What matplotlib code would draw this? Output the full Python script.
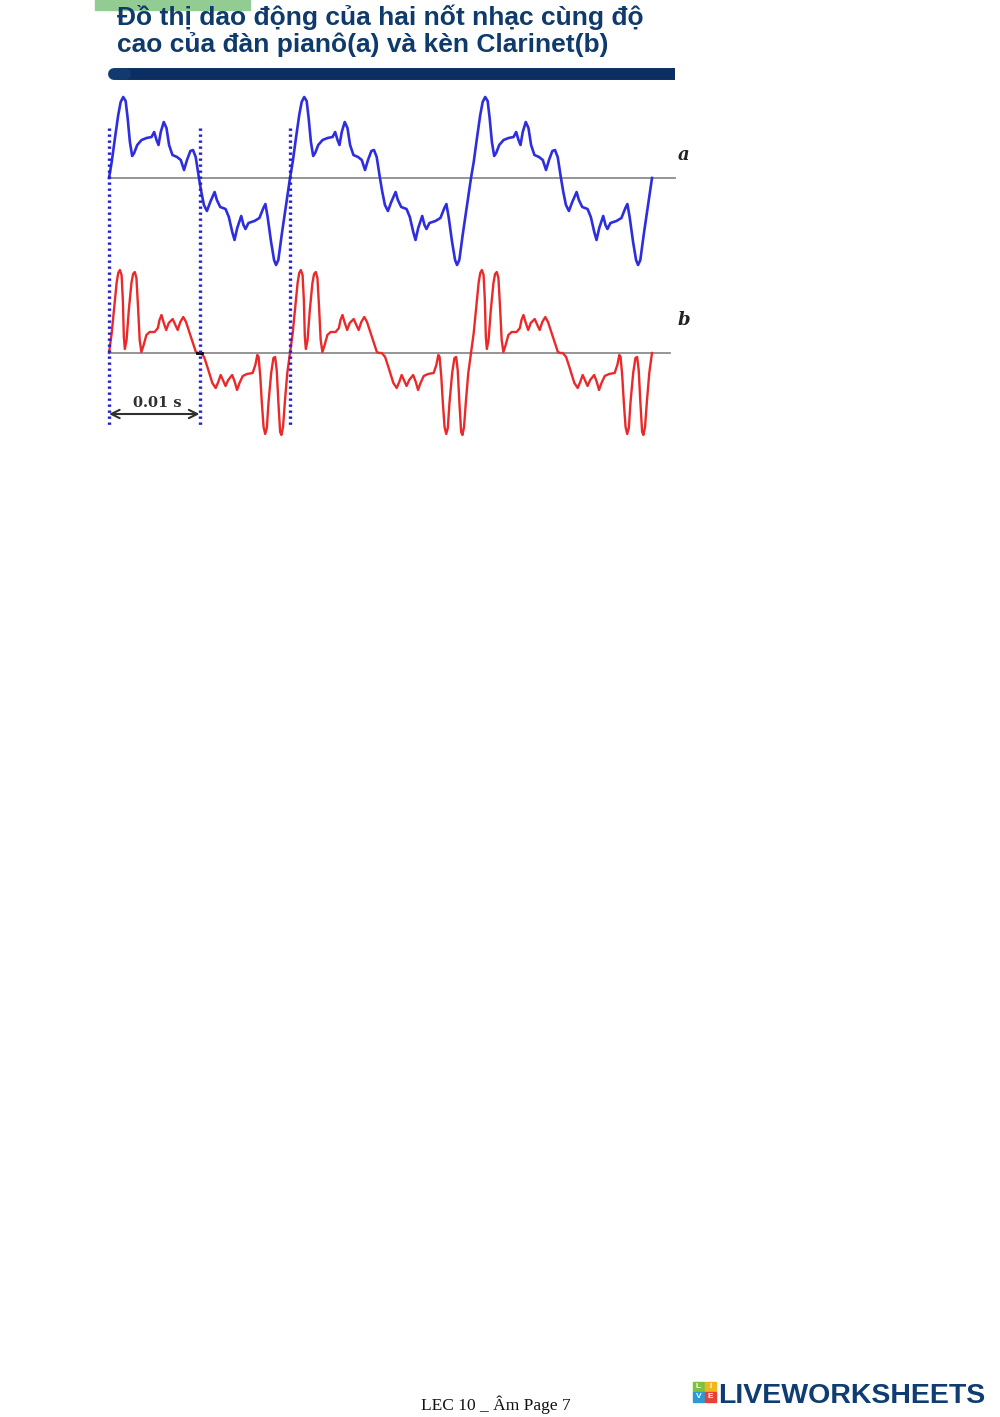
import numpy as np
import matplotlib
matplotlib.use('Agg')
import matplotlib.pyplot as plt
from matplotlib.patches import Rectangle

title_lines = ['Đồ thị dao động của hai nốt nhạc cùng độ',
               'cao của đàn pianô(a) và kèn Clarinet(b)']
footer = 'LEC 10 _ Âm Page 7'
brand = 'LIVEWORKSHEETS'
brand_icon = ['L', 'I', 'V', 'E']

period_ms = 20.0
n_periods = 3
marks_ms = [0, 10, 20]

# one period of the piano wave (a): time in ms, amplitude (arb. units)
t_a = [0.00, 0.30, 0.66, 1.02, 1.29, 1.57, 1.84, 2.06, 2.31, 2.56,
       2.78, 3.12, 3.60, 4.15, 4.70, 4.99, 5.25, 5.47, 5.72, 6.05,
       6.35, 6.64, 7.01, 7.52, 7.93, 8.29, 8.62, 8.99, 9.28, 9.58,
       9.94, 10.20, 10.49, 10.82, 11.19, 11.67, 11.92, 12.29, 12.88, 13.24,
       13.62, 13.87, 14.17, 14.61, 14.86, 15.08, 15.41, 16.07, 16.62, 17.06,
       17.28, 17.53, 17.91, 18.24, 18.46, 18.71, 19.08, 19.56, 20.00]
amp_a = [0, 16, 40, 63, 76, 81, 77, 60, 36, 22,
         25, 33, 38, 40, 41, 46, 38, 33, 46, 56,
         50, 33, 23, 21, 18, 8, 18, 27, 28, 21,
         0, -14, -27, -33, -24, -14, -22, -29, -31, -39,
         -54, -62, -50, -38, -47, -51, -45, -43, -40, -30,
         -26, -39, -64, -82, -87, -82, -57, -27, 0]

# one period of the clarinet wave (b)
t_b = [0.00, 0.30, 0.58, 0.84, 1.02, 1.20, 1.39, 1.53, 1.64, 1.75,
       1.94, 2.19, 2.48, 2.66, 2.85, 3.03, 3.21, 3.39, 3.58, 3.83,
       4.13, 4.49, 5.04, 5.40, 5.58, 5.80, 6.02, 6.32, 6.60, 7.04,
       7.33, 7.59, 7.88, 8.21, 8.51, 8.87, 9.23, 9.60, 9.85, 10.15,
       10.51, 10.87, 11.42, 11.79, 12.07, 12.34, 12.59, 12.88, 13.17, 13.61,
       13.90, 14.15, 14.42, 14.78, 15.25, 15.87, 16.17, 16.39, 16.53, 16.72,
       16.89, 17.08, 17.26, 17.44, 17.62, 17.92, 18.17, 18.36, 18.53, 18.72,
       18.91, 19.05, 19.23, 19.45, 19.70, 20.00]
amp_b = [0, 20, 46, 70, 80, 83, 78, 53, 16, 4,
         13, 43, 70, 79, 81, 75, 46, 13, 1, 8,
         18, 21, 21, 25, 33, 38, 31, 23, 30, 34,
         28, 23, 31, 36, 31, 21, 11, 1, 0, 0,
         -4, -14, -30, -35, -29, -22, -27, -33, -27, -22,
         -29, -37, -30, -23, -21, -20, -12, -2, -4, -24,
         -50, -74, -81, -75, -50, -20, -5, -4, -17, -50,
         -79, -82, -74, -47, -20, 0]


def tile(t, y):
    tt = np.concatenate([np.array(t) + k * period_ms for k in range(n_periods)])
    yy = np.concatenate([np.array(y) for _ in range(n_periods)])
    return tt, yy


fig = plt.figure(figsize=(10, 14.17), dpi=100)
ax = fig.add_axes([0, 0, 1, 1])
ax.set_xlim(0, 1000)
ax.set_ylim(1417, 0)
ax.axis('off')

# header
ax.add_patch(Rectangle((95, 0), 155, 10, color='#93cc93', zorder=1))
navy = '#0e3a6c'
ax.text(117, 25, title_lines[0], fontsize=19, fontweight='bold', color=navy,
        family='Liberation Sans', va='baseline', zorder=3)
ax.text(117, 52, title_lines[1], fontsize=19, fontweight='bold', color=navy,
        family='Liberation Sans', va='baseline', zorder=3)
ax.plot([118, 675], [74, 74], color='#0b2f62', lw=8.6, solid_capstyle='butt')
ax.plot([114, 125], [74, 74], color='#123a6e', lw=8.6, solid_capstyle='round')

# waveforms: x in ms, y in page pixels
px_per_ms = 9.05
x0 = 109
wv = fig.add_axes([0, 0, 1, 1])
wv.set_xlim((0 - x0) / px_per_ms, (1000 - x0) / px_per_ms)
wv.set_ylim(1417, 0)
wv.axis('off')
wv.patch.set_alpha(0)

base_a, base_b = 178, 353
wv.plot([0, (675 - x0) / px_per_ms], [base_a, base_a], color='#8c8c8c', lw=1.3)
wv.plot([0, (670 - x0) / px_per_ms], [base_b, base_b], color='#8c8c8c', lw=1.3)

ta, ya = tile(t_a, amp_a)
tb, yb = tile(t_b, amp_b)
wv.plot(ta, base_a - ya, color='#2e2ede', lw=1.9, solid_joinstyle='round', zorder=4)
wv.plot(tb, base_b - yb, color='#ea2a2a', lw=1.7, solid_joinstyle='round', zorder=4)
wv.plot([9.7, 10.3], [base_b, base_b], color='black', lw=2.0, zorder=5)

for m in marks_ms:
    wv.plot([m, m], [128, 426], color='#2020d0', lw=2.4,
            linestyle=(0, (0.7, 1.1)), zorder=6)

wv.annotate('', xy=(10, 414), xytext=(0, 414),
            arrowprops=dict(arrowstyle='<->', color='#303030', lw=1.5,
                            shrinkA=0, shrinkB=0, mutation_scale=15))
wv.text(5.3, 407, '0.01 s', fontsize=10.5, fontweight='bold',
        family='DejaVu Serif', ha='center', va='baseline', color='#303030')
wv.text((684 - x0) / px_per_ms, 160, 'a', fontsize=13, fontweight='bold',
        style='italic', family='DejaVu Serif', ha='center', va='baseline',
        color='#222222')
wv.text((684 - x0) / px_per_ms, 325, 'b', fontsize=13, fontweight='bold',
        style='italic', family='DejaVu Serif', ha='center', va='baseline',
        color='#222222')

# footer
ax.text(496, 1410, footer, fontsize=12.5, family='Liberation Serif',
        ha='center', va='baseline', color='#111111')
icon_colors = ['#7dc143', '#f2b51c', '#2b9ad6', '#e5403a']
icon_pos = [(693, 1382), (705, 1382), (693, 1392), (705, 1392)]
for (ix, iy), c, ch in zip(icon_pos, icon_colors, brand_icon):
    ax.add_patch(Rectangle((ix, iy), 11, 9.5, color=c, zorder=3))
    ax.text(ix + 5.5, iy + 5, ch, fontsize=6, fontweight='bold', color='white',
            ha='center', va='center', family='Liberation Sans', zorder=4)
ax.text(718, 1403, brand, fontsize=20.5, fontweight='bold', color='#0f3d73',
        family='Liberation Sans', va='baseline')

fig.savefig('out.png', dpi=100)
